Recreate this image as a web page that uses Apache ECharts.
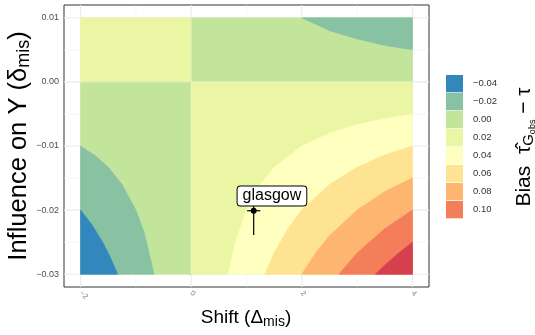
<!DOCTYPE html>
<html>
<head>
<meta charset="utf-8">
<script src="https://cdn.jsdelivr.net/npm/echarts@6/dist/echarts.min.js"></script>
<style>
  html, body { margin: 0; padding: 0; background: #ffffff; }
  #chart { width: 535px; height: 335px; }
</style>
</head>
<body>
<div id="chart"></div>
<script>
// Axis ticks and grid positions
const shiftTicks = [-2, 0, 2, 4];
const shiftMinor = [-1, 1, 3];
const influenceTicks = [-0.03, -0.02, -0.01, 0.00, 0.01];
const influenceMinor = [-0.025, -0.015, -0.005, 0.005];

// Sensitivity grid extent (Shift, Influence on Y)
const shiftRange = [-2, 4];
const influenceRange = [-0.03, 0.01];

// Bias bins, lowest to highest, and their legend labels
const binColors = ['#3288BD', '#88C2A3', '#C3E59B', '#EAF6A3', '#FFFFBF', '#FEE393', '#FDB56F', '#F47D5A', '#D5404F'];
const binLabels = ['\u22120.04', '\u22120.02', '0.00', '0.02', '0.04', '0.06', '0.08', '0.10'];

// Contour boundaries between bins, as (shift, influence) points
const lowerLeftEdge1 = [[-2.00, -0.0100], [-1.75, -0.0114], [-1.50, -0.0133], [-1.25, -0.0160], [-1.00, -0.0200], [-0.85, -0.0235], [-0.67, -0.0300]];
const lowerLeftEdge2 = [[-2.00, -0.0200], [-1.80, -0.0222], [-1.60, -0.0250], [-1.45, -0.0276], [-1.33, -0.0300]];
const upperRightEdge1 = [[2.00, 0.0100], [2.50, 0.0080], [3.00, 0.0067], [3.50, 0.0057], [4.00, 0.0050]];
const lowerRightEdge1 = [[0.67, -0.0300], [0.80, -0.0250], [1.00, -0.0200], [1.25, -0.0160], [1.50, -0.0133], [2.00, -0.0100], [2.50, -0.0080], [3.00, -0.0067], [3.50, -0.0057], [4.00, -0.0050]];
const lowerRightEdge2 = [[1.33, -0.0300], [1.50, -0.0267], [1.75, -0.0229], [2.00, -0.0200], [2.50, -0.0160], [3.00, -0.0133], [3.50, -0.0114], [4.00, -0.0100]];
const lowerRightEdge3 = [[2.00, -0.0300], [2.25, -0.0267], [2.50, -0.0240], [3.00, -0.0200], [3.50, -0.0171], [4.00, -0.0150]];
const lowerRightEdge4 = [[2.67, -0.0300], [3.00, -0.0267], [3.50, -0.0229], [4.00, -0.0200]];
const lowerRightEdge5 = [[3.33, -0.0300], [3.50, -0.0286], [3.75, -0.0267], [4.00, -0.0250]];

// Observed study estimate
const studyName = 'glasgow';
const studyPoint = [1.13, -0.0201];
const studyShiftErr = 0.12;
const studyInfluenceErr = 0.0038;
const studyLabelAt = [1.46, -0.0178];

// Filled regions, painted in order (later ones on top)
const [x0, x1] = shiftRange;
const [y0, y1] = influenceRange;
const regions = [
  { bin: 3, pts: [[x0, 0], [0, 0], [0, y1], [x0, y1]] },
  { bin: 2, pts: [[0, 0], [x1, 0], [x1, y1], [0, y1]] },
  { bin: 1, pts: upperRightEdge1.concat([[x1, y1]]) },
  { bin: 2, pts: [[x0, y0], [0, y0], [0, 0], [x0, 0]] },
  { bin: 1, pts: lowerLeftEdge1.concat([[x0, y0]]) },
  { bin: 0, pts: lowerLeftEdge2.concat([[x0, y0]]) },
  { bin: 3, pts: [[0, y0], [x1, y0], [x1, 0], [0, 0]] },
  { bin: 4, pts: lowerRightEdge1.concat([[x1, y0]]) },
  { bin: 5, pts: lowerRightEdge2.concat([[x1, y0]]) },
  { bin: 6, pts: lowerRightEdge3.concat([[x1, y0]]) },
  { bin: 7, pts: lowerRightEdge4.concat([[x1, y0]]) },
  { bin: 8, pts: lowerRightEdge5.concat([[x1, y0]]) }
];

const FONT = '"Liberation Sans", Arial, Helvetica, sans-serif';
const xLim = [-2.3, 4.3];
const yLim = [-0.032, 0.012];
const fmtNum = (v, d) => {
  const s = Math.abs(v) < 1e-12 ? (0).toFixed(d) : v.toFixed(d);
  return s.replace('-', '\u2212');
};

const chart = echarts.init(document.getElementById('chart'), null, { renderer: 'canvas' });

function renderGrid(params, api) {
  const children = [];
  const vline = (x, w, c) => {
    const a = api.coord([x, yLim[0]]), b = api.coord([x, yLim[1]]);
    children.push({ type: 'line', shape: { x1: a[0], y1: a[1], x2: b[0], y2: b[1] }, style: { stroke: c, lineWidth: w } });
  };
  const hline = (y, w, c) => {
    const a = api.coord([xLim[0], y]), b = api.coord([xLim[1], y]);
    children.push({ type: 'line', shape: { x1: a[0], y1: a[1], x2: b[0], y2: b[1] }, style: { stroke: c, lineWidth: w } });
  };
  shiftMinor.forEach(v => vline(v, 0.6, '#F2F2F2'));
  influenceMinor.forEach(v => hline(v, 0.6, '#F2F2F2'));
  shiftTicks.forEach(v => vline(v, 1.1, '#EBEBEB'));
  influenceTicks.forEach(v => hline(v, 1.1, '#EBEBEB'));
  return { type: 'group', children };
}

function renderRegion(params, api) {
  const r = regions[params.dataIndex];
  const c = binColors[r.bin];
  return {
    type: 'polygon',
    shape: { points: r.pts.map(p => api.coord(p)) },
    style: { fill: c, stroke: c, lineWidth: 0.6 }
  };
}

function renderSeams(params, api) {
  const a = api.coord([0, y0]), b = api.coord([0, y1]);
  const c = api.coord([x0, 0]), d = api.coord([x1, 0]);
  const st = { stroke: 'rgba(255,255,255,0.45)', lineWidth: 0.8 };
  return {
    type: 'group',
    children: [
      { type: 'line', shape: { x1: a[0], y1: a[1], x2: b[0], y2: b[1] }, style: st },
      { type: 'line', shape: { x1: c[0], y1: c[1], x2: d[0], y2: d[1] }, style: st }
    ]
  };
}

function renderStudy(params, api) {
  const p = api.coord(studyPoint);
  const hl = api.coord([studyPoint[0] - studyShiftErr, studyPoint[1]]);
  const hr = api.coord([studyPoint[0] + studyShiftErr, studyPoint[1]]);
  const vb = api.coord([studyPoint[0], studyPoint[1] - studyInfluenceErr]);
  const vt = api.coord([studyPoint[0], studyPoint[1] + studyInfluenceErr]);
  const lp = api.coord(studyLabelAt);
  const ln = { stroke: '#000', lineWidth: 1.2 };
  return {
    type: 'group',
    children: [
      { type: 'line', shape: { x1: hl[0], y1: hl[1], x2: hr[0], y2: hr[1] }, style: ln },
      { type: 'line', shape: { x1: vb[0], y1: vb[1], x2: vt[0], y2: vt[1] }, style: ln },
      { type: 'circle', shape: { cx: p[0], cy: p[1], r: 3 }, style: { fill: '#000' } },
      {
        type: 'text',
        x: lp[0], y: lp[1],
        style: {
          text: studyName,
          font: '16px ' + FONT,
          fill: '#000',
          align: 'center',
          verticalAlign: 'middle',
          backgroundColor: '#ffffff',
          borderColor: '#000',
          borderWidth: 1,
          borderRadius: 3,
          padding: [1, 5, 1, 5],
          lineHeight: 17
        }
      }
    ]
  };
}

// Legend keys built from the bin colours and labels
const legendChildren = [];
binLabels.forEach((lab, i) => {
  legendChildren.push({
    type: 'rect',
    shape: { x: 446, y: 75 + 18 * i, width: 17, height: 17.3 },
    style: { fill: binColors[i] }
  });
  legendChildren.push({
    type: 'text',
    x: 473, y: 75 + 18 * i + 8.7,
    style: { text: lab, font: '9.5px ' + FONT, fill: '#333', verticalAlign: 'middle', align: 'left' }
  });
});

const option = {
  animation: false,
  backgroundColor: '#ffffff',
  textStyle: { fontFamily: FONT },
  grid: {
    left: 64, right: 106, top: 5, bottom: 48,
    show: true, backgroundColor: '#ffffff', borderColor: '#333333', borderWidth: 1
  },
  xAxis: {
    type: 'value', min: xLim[0], max: xLim[1],
    axisLine: { show: false },
    splitLine: { show: false },
    axisTick: { show: true, customValues: shiftTicks, length: 3, lineStyle: { color: '#333', width: 1 } },
    axisLabel: {
      customValues: shiftTicks, rotate: -45, fontSize: 7.5, color: '#7F7F7F', margin: 5,
      fontFamily: FONT, formatter: v => fmtNum(v, 0)
    }
  },
  yAxis: {
    type: 'value', min: yLim[0], max: yLim[1],
    axisLine: { show: false },
    splitLine: { show: false },
    axisTick: { show: true, customValues: influenceTicks, length: 3, lineStyle: { color: '#333', width: 1 } },
    axisLabel: {
      customValues: influenceTicks, fontSize: 9, color: '#4D4D4D', margin: 5,
      fontFamily: FONT, formatter: v => fmtNum(v, 2)
    }
  },
  series: [
    { type: 'custom', coordinateSystem: 'cartesian2d', data: [[0, 0]], renderItem: renderGrid, silent: true, z: 1 },
    { type: 'custom', coordinateSystem: 'cartesian2d', data: regions.map((r, i) => [i, 0]), renderItem: renderRegion, silent: true, z: 2 },
    { type: 'custom', coordinateSystem: 'cartesian2d', data: [[0, 0]], renderItem: renderSeams, silent: true, z: 3 },
    { type: 'custom', coordinateSystem: 'cartesian2d', data: [studyPoint], renderItem: renderStudy, silent: true, z: 4 }
  ],
  graphic: [
    {
      type: 'text', x: 246, y: 318,
      style: {
        text: 'Shift (\u0394{s|mis})',
        font: '19px ' + FONT, fill: '#000', align: 'center', verticalAlign: 'middle',
        rich: { s: { fontSize: 14, fontFamily: FONT, padding: [9, 0, 0, 0] } }
      }
    },
    {
      type: 'text', x: 18.5, y: 146, rotation: Math.PI / 2,
      style: {
        text: 'Influence on Y (\u03B4{s|mis})',
        font: '25.5px ' + FONT, fill: '#000', align: 'center', verticalAlign: 'middle',
        rich: { s: { fontSize: 18, fontFamily: FONT, padding: [12, 0, 0, 0] } }
      }
    },
    {
      type: 'text', x: 524, y: 147, rotation: Math.PI / 2,
      style: {
        text: 'Bias  \u03C4\u0302{g|G}{o|obs} \u2212 \u03C4',
        font: '21px ' + FONT, fill: '#000', align: 'center', verticalAlign: 'middle',
        rich: {
          g: { fontSize: 15, fontFamily: FONT, padding: [10, 0, 0, 0] },
          o: { fontSize: 9, fontFamily: FONT, padding: [17, 0, 0, 0] }
        }
      }
    },
    { type: 'group', children: legendChildren }
  ]
};

chart.setOption(option);
</script>
</body>
</html>
